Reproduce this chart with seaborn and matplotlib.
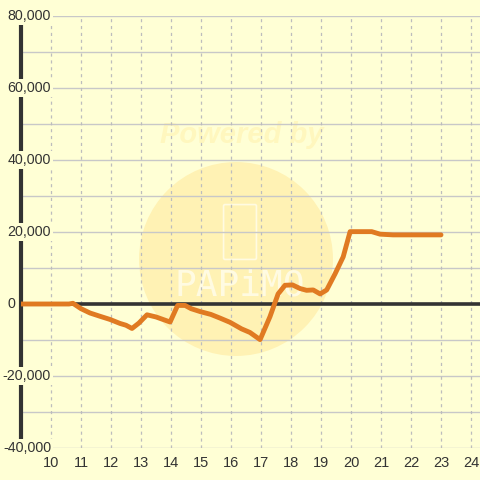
import numpy as np
import pandas as pd
import matplotlib
matplotlib.use("Agg")
import matplotlib.pyplot as plt
import matplotlib.transforms as mtransforms
from matplotlib.patches import Circle, FancyBboxPatch
import seaborn as sns

# hour of day and running balance
hours = [9.0, 10.6, 10.73, 11.0, 11.3, 11.63, 11.97, 12.3, 12.5, 12.7,
         12.93, 13.2, 13.5, 13.97, 14.22, 14.47, 14.67, 14.97, 15.33, 15.63,
         15.97, 16.35, 16.63, 16.97, 17.3, 17.57, 17.8, 18.05, 18.3, 18.52,
         18.74, 18.97, 19.19, 19.47, 19.74, 19.97, 20.69, 20.97, 21.4, 23.0]
balance = [0, 0, 200, -1300, -2500, -3400, -4300, -5400, -5900, -6800,
           -5300, -3000, -3600, -5000, -400, -400, -1300, -2100, -2900, -3900,
           -5100, -6900, -7900, -9900, -3500, 2800, 5200, 5300, 4300, 3800,
           3900, 2800, 3900, 8400, 13100, 20100, 20100, 19400, 19200, 19200]

x_ticks = list(range(10, 25))
y_ticks = [-40000, -20000, 0, 20000, 40000, 60000, 80000]
y_grid = list(range(-40000, 80001, 10000))

df = pd.DataFrame({"hour": hours, "balance": balance})

bg = "#FFFFD5"
sns.set_theme(style="white", rc={"axes.facecolor": bg, "figure.facecolor": bg})
plt.rcParams["font.family"] = ["Liberation Sans", "DejaVu Sans"]

fig = plt.figure(figsize=(4.8, 4.8), dpi=100)
ax = fig.add_axes([21 / 480, 32 / 480, 459 / 480, 432 / 480])
ax.set_zorder(1)
ax.patch.set_alpha(0)

# faint watermark behind the plot
wm = "#FFFBE2"
fig.patches.append(Circle((0.4917, 0.4604), 0.202, transform=fig.transFigure,
                          facecolor="#FFF2B4", edgecolor="none", zorder=0.2))
fig.text(0.503, 0.719, "Powered by", fontsize=21, fontweight="bold", fontstyle="italic",
         color="#FFF7BE", ha="center", va="center", zorder=0.3)
fig.text(0.5, 0.406, "PAPiMO", fontsize=26, color=wm, ha="center", va="center",
         fontfamily="DejaVu Sans Mono", zorder=0.3)
fig.patches.append(FancyBboxPatch((225 / 480, 1 - 258 / 480), 30 / 480, 52 / 480,
                                  boxstyle="round,pad=0.003", transform=fig.transFigure,
                                  facecolor="none", edgecolor=wm, linewidth=1.2, zorder=0.3))

for v in y_grid:
    ax.axhline(v, color="#C8C8C8", linewidth=1, zorder=1)
for v in x_ticks:
    ax.axvline(v, color="#BDBDBD", linewidth=0.9, linestyle=(0, (2.5, 3)), zorder=1)
ax.axhline(0, color="#333333", linewidth=2.6, zorder=2)

sns.lineplot(data=df, x="hour", y="balance", color="#E07A22", linewidth=3.5,
             ax=ax, zorder=3)

ax.set_xlim(9, 24.3)
ax.set_ylim(-40000, 80000)
ax.set_xticks(x_ticks)
ax.set_xticklabels([str(t) for t in x_ticks], fontsize=10.5, color="#333333")
ax.tick_params(axis="x", length=0, pad=6)
ax.set_yticks([])
ax.set_xlabel("")
ax.set_ylabel("")
for s in ["top", "right", "bottom"]:
    ax.spines[s].set_visible(False)
ax.spines["left"].set_color("#333333")
ax.spines["left"].set_linewidth(3)

trans = mtransforms.blended_transform_factory(ax.transAxes, ax.transData)
for v in y_ticks:
    if v == 0:
        # the zero label sits left of the axis line
        ax.annotate("0", xy=(0, 0), xycoords=trans, xytext=(-4, 0),
                    textcoords="offset points", ha="right", va="center",
                    fontsize=10.3, color="#333333", annotation_clip=False)
        continue
    ax.text(30 / 459, v, f"{v:,}", transform=trans, ha="right", va="center",
            fontsize=10.3, color="#333333", zorder=5, clip_on=False,
            bbox=dict(facecolor=bg, edgecolor="none", pad=1.2))

fig.savefig("out.png", dpi=100, facecolor=bg)
